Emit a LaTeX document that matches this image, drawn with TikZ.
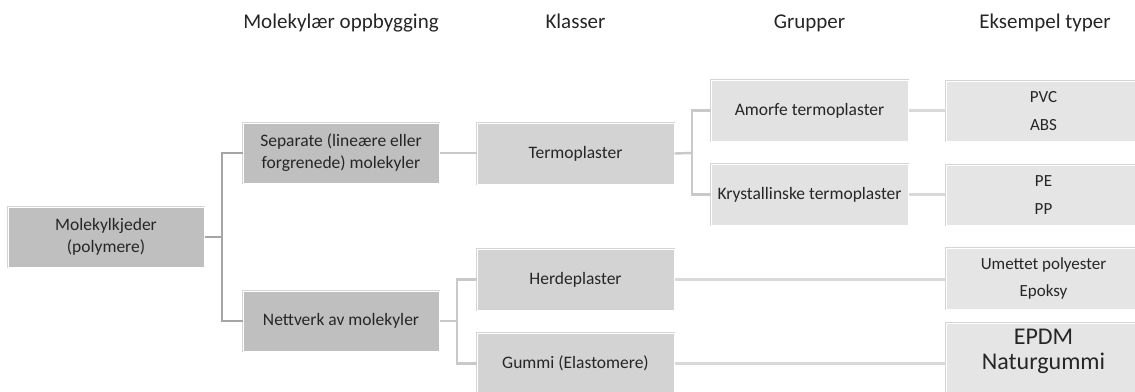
\documentclass[tikz,border=0pt]{standalone}
\usepackage{fontspec}
\setmainfont{Carlito}
\definecolor{txt}{HTML}{262626}
\definecolor{fillA}{HTML}{BFBFBF}
\definecolor{fillB}{HTML}{D3D3D3}
\definecolor{fillC}{HTML}{E2E2E2}
\definecolor{fillD}{HTML}{E5E5E5}
\definecolor{lnA}{HTML}{A5A5A5}
\definecolor{lnB}{HTML}{C9C9C9}
\definecolor{lnC}{HTML}{D9D9D9}
\begin{document}
\begin{tikzpicture}[x=1pt,y=-1pt,
  boxbase/.style={rectangle, draw=white, line width=1pt,
    preaction={draw=black!17, line width=2.6pt},
    minimum width=196pt, minimum height=60pt, inner sep=0pt,
    text=txt, align=center, font=\fontsize{17.5}{22}\selectfont},
  boxA/.style={boxbase, fill=fillA},
  boxB/.style={boxbase, fill=fillB},
  boxC/.style={boxbase, fill=fillC},
  boxD/.style={boxbase, fill=fillD, font=\fontsize{17}{27.5}\selectfont},
  bigtxt/.style={text=txt, inner sep=0pt, font=\fontsize{24}{26}\selectfont},
  head/.style={anchor=base, text=txt, font=\fontsize{21}{25}\selectfont},
  cA/.style={draw=lnA, line width=2pt},
  cB/.style={draw=lnB, line width=2.4pt},
  cC/.style={draw=lnC, line width=3pt}
]
\useasboundingbox (0,0) rectangle (1135,391);
\clip (0,0) rectangle (1135,391);

% headers
\node[head] (h1) at (341,28) {Molekylær oppbygging};
\node[head] (h2) at (575.5,28) {Klasser};
\node[head] (h3) at (809.5,28) {Grupper};
\node[head] (h4) at (1045,28) {Eksempel typer};

% fork points
\coordinate (f1) at (222,237);
\coordinate (f2) at (457,321);
\coordinate (f3) at (692,153);

% boxes
\node[boxA] (mol) at (106,237) {Molekylkjeder\\(polymere)};
\node[boxA] (sep) at (341,153) {Separate (lineære eller\\forgrenede) molekyler};
\node[boxA] (nett) at (341,321) {Nettverk av molekyler};
\node[boxB, minimum width=197pt, minimum height=61pt] (termo) at (575.5,153.5) {Termoplaster};
\node[boxB, minimum width=197pt, minimum height=61pt] (herde) at (575.5,279.5) {Herdeplaster};
\node[boxB, minimum width=197pt, minimum height=60pt] (gummi) at (575.5,363.5) {Gummi (Elastomere)};
\node[boxC, minimum width=197pt, minimum height=61pt] (amorf) at (809.5,110.5) {Amorfe termoplaster};
\node[boxC, minimum width=197pt, minimum height=61pt] (kryst) at (809.5,194.5) {Krystallinske termoplaster};
\node[boxD, minimum width=195pt, minimum height=60pt] (pvc) at (1043.5,111) {PVC\\ABS};
\node[boxD, minimum width=195pt, minimum height=60pt] (pe) at (1043.5,195) {PE\\PP};
\node[boxD, minimum width=195pt, minimum height=61pt] (umet) at (1043.5,278.5) {Umettet polyester\\Epoksy};
\node[boxD, minimum width=195pt, minimum height=80pt] (epdm) at (1043.5,363) {};
\node[bigtxt] (epdmt) at (1043.5,337) {EPDM};
\node[bigtxt] (natt) at (1043.5,363) {Naturgummi};

% connectors
\draw[cA] (mol.east) -- (f1);
\draw[cA] (f1) |- (sep.west);
\draw[cA] (f1) |- (nett.west);
\draw[cB] (sep.east) -- (termo.west |- sep.east);
\draw[cB] (nett.east) -- (f2);
\draw[cB] (f2) |- (herde.west);
\draw[cB] (f2) |- (gummi.west);
\draw[cB] (termo.east) -- (f3);
\draw[cB] (f3) |- (amorf.west);
\draw[cB] (f3) |- (kryst.west);
\draw[cC] (amorf.east) -- (pvc.west |- amorf.east);
\draw[cC] (kryst.east) -- (pe.west |- kryst.east);
\draw[cC] (herde.east) -- (umet.west |- herde.east);
\draw[cC] (gummi.east) -- (epdm.west |- gummi.east);
\end{tikzpicture}
\end{document}
